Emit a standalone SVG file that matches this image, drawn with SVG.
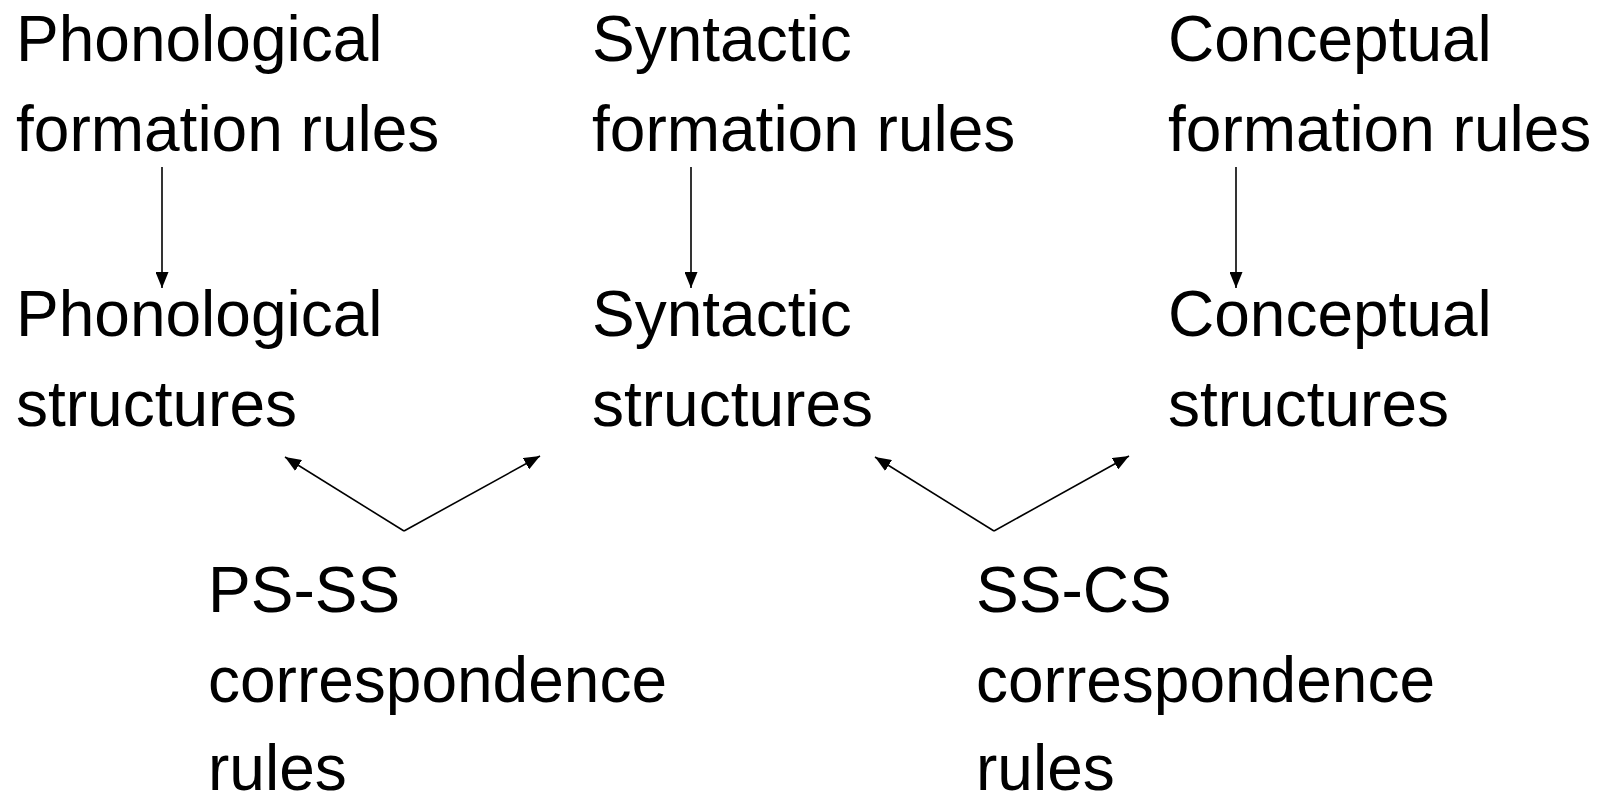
<svg xmlns="http://www.w3.org/2000/svg" width="1598" height="798" viewBox="0 0 1598 798">
<style>
text{font-family:"Liberation Sans",Arial,Helvetica,sans-serif;font-size:64px;fill:#000}
.c{stroke:#000;stroke-width:1.6;fill:none}
</style>
<defs>
<marker id="ah" markerUnits="userSpaceOnUse" markerWidth="16" markerHeight="13" refX="16" refY="6.5" orient="auto" viewBox="0 0 16 13">
<path d="M0,0 L16,6.5 L0,13 z" fill="#000"/>
</marker>
</defs>
<rect width="1598" height="798" fill="#fff"/>
<g id="phon-rules"><text x="16" y="61">Phonological</text><text x="16" y="151">formation rules</text></g>
<g id="syn-rules"><text x="592" y="61">Syntactic</text><text x="592" y="151">formation rules</text></g>
<g id="con-rules"><text x="1168" y="61">Conceptual</text><text x="1168" y="151">formation rules</text></g>
<g id="phon-struct"><text x="16" y="336">Phonological</text><text x="16" y="426">structures</text></g>
<g id="syn-struct"><text x="592" y="336">Syntactic</text><text x="592" y="426">structures</text></g>
<g id="con-struct"><text x="1168" y="336">Conceptual</text><text x="1168" y="426">structures</text></g>
<g id="ps-ss"><text x="208" y="612">PS-SS</text><text x="208" y="702">correspondence</text><text x="208" y="790">rules</text></g>
<g id="ss-cs"><text x="976" y="612">SS-CS</text><text x="976" y="702">correspondence</text><text x="976" y="790">rules</text></g>
<g id="connectors">
<line class="c" x1="162" y1="167" x2="162" y2="288" marker-end="url(#ah)"/>
<line class="c" x1="691" y1="167" x2="691" y2="288" marker-end="url(#ah)"/>
<line class="c" x1="1236" y1="167" x2="1236" y2="288" marker-end="url(#ah)"/>
<path class="c" d="M404,531 L285,457" marker-end="url(#ah)"/>
<path class="c" d="M404,531 L540,456" marker-end="url(#ah)"/>
<path class="c" d="M994,531 L875,457" marker-end="url(#ah)"/>
<path class="c" d="M994,531 L1129,456" marker-end="url(#ah)"/>
</g>
</svg>
